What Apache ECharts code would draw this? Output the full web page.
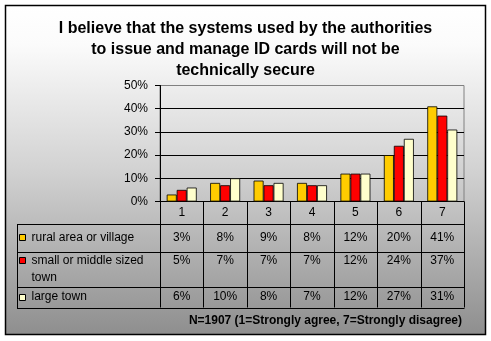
<!DOCTYPE html>
<html>
<head>
<meta charset="utf-8">
<script src="https://cdn.jsdelivr.net/npm/echarts@6/dist/echarts.min.js"></script>
<style>
html,body{margin:0;padding:0;background:#fff;}
#c{width:491px;height:341px;}
</style>
</head>
<body>
<div id="c"></div>
<script>
// ---- data ----
var categories = ['1', '2', '3', '4', '5', '6', '7'];
var seriesNames = ['rural area or village', 'small or middle sized town', 'large town'];
var rural = [3, 8, 9, 8, 12, 20, 41];
var smallTown = [5, 7, 7, 7, 12, 24, 37];
var largeTown = [6, 10, 8, 7, 12, 27, 31];
var yTicks = [0, 10, 20, 30, 40, 50];
var titleText = 'I believe that the systems used by the authorities\nto issue and manage ID cards will not be\ntechnically secure';
var footnote = 'N=1907 (1=Strongly agree, 7=Strongly disagree)';

var seriesValues = [rural, smallTown, largeTown];
var colors = ['#FFCC00', '#FF0000', '#FFFFCC'];
var FONT = 'Arial, "Liberation Sans", sans-serif';

var chart = echarts.init(document.getElementById('c'), null, {renderer: 'canvas'});

var baseOption = {
  animation: false,
  backgroundColor: '#ffffff',
  title: {
    text: titleText,
    left: 'center',
    top: 13,
    textStyle: {fontFamily: FONT, fontSize: 16, fontWeight: 'bold', color: '#000', lineHeight: 21}
  },
  grid: {left: 160, right: 27, top: 85.5, bottom: 139.5, show: true, borderColor: '#808080', borderWidth: 1, backgroundColor: 'transparent'},
  xAxis: {
    type: 'category',
    data: categories,
    axisLine: {show: true, lineStyle: {color: '#000', width: 1}},
    axisTick: {show: false},
    axisLabel: {fontFamily: FONT, fontSize: 12, color: '#000', margin: 5}
  },
  yAxis: {
    type: 'value',
    min: yTicks[0],
    max: yTicks[yTicks.length - 1],
    interval: yTicks[1] - yTicks[0],
    axisLine: {show: true, lineStyle: {color: '#000', width: 1}},
    axisTick: {show: true, inside: false, length: 5, lineStyle: {color: '#000'}},
    axisLabel: {fontFamily: FONT, fontSize: 12, color: '#000', margin: 12, formatter: '{value}%'},
    splitLine: {show: true, showMaxLine: false, lineStyle: {color: '#000', width: 1}}
  },
  series: seriesValues.map(function (vals, i) {
    return {
      type: 'bar',
      name: seriesNames[i],
      data: vals,
      barGap: '0%',
      barCategoryGap: '31%',
      itemStyle: {color: colors[i], borderColor: '#000', borderWidth: 0.8}
    };
  })
};

chart.setOption(baseOption);

function buildGraphics() {
  var x0 = chart.convertToPixel({xAxisIndex: 0}, 0);
  var x1 = chart.convertToPixel({xAxisIndex: 0}, 1);
  var band = x1 - x0;
  var left = x0 - band / 2;
  var right = left + band * categories.length;
  var yBase = chart.convertToPixel({yAxisIndex: 0}, 0);

  // table layout (offsets below plot bottom)
  var headerBottom = yBase + 22;
  var rowBounds = [headerBottom, yBase + 50, yBase + 85, yBase + 106];
  var tableLeft = 17;
  var lineH = 17.4;
  var els = [];

  // frame with gradient background
  els.push({
    type: 'rect', z: -10, silent: true,
    shape: {x: 5.5, y: 5.5, width: 480, height: 329},
    style: {
      fill: {type: 'linear', x: 0, y: 0, x2: 0, y2: 1, colorStops: [
        {offset: 0, color: '#ffffff'}, {offset: 0.12, color: '#fbfbfb'},
        {offset: 0.5, color: '#d2d2d2'}, {offset: 1, color: '#8e8e8e'}]},
      stroke: '#000', lineWidth: 1.5
    }
  });

  var stroke = {stroke: '#000', lineWidth: 1};
  // header row vertical lines
  for (var c = 0; c <= categories.length; c++) {
    var xx = Math.round(left + band * c) + 0.5;
    els.push({type: 'line', silent: true, shape: {x1: xx, y1: yBase, x2: xx, y2: rowBounds[3]}, style: stroke});
  }
  // horizontal lines
  els.push({type: 'line', silent: true, shape: {x1: left, y1: Math.round(headerBottom) + 0.5, x2: right, y2: Math.round(headerBottom) + 0.5}, style: stroke});
  for (var r = 0; r < rowBounds.length; r++) {
    var yy = Math.round(rowBounds[r]) + 0.5;
    els.push({type: 'line', silent: true, shape: {x1: tableLeft, y1: yy, x2: right + 0.5, y2: yy}, style: stroke});
  }
  var tl = Math.round(tableLeft) + 0.5;
  els.push({type: 'line', silent: true, shape: {x1: tl, y1: Math.round(rowBounds[0]) + 0.5, x2: tl, y2: Math.round(rowBounds[3]) + 0.5}, style: stroke});

  // rows
  var lineCounts = [1, 2, 1];
  for (var s = 0; s < seriesNames.length; s++) {
    var top = rowBounds[s], bot = rowBounds[s + 1];
    var mid = (top + bot) / 2;
    var firstY = mid - (lineCounts[s] - 1) * lineH / 2;
    // key square
    els.push({type: 'rect', silent: true, shape: {x: 19.5, y: Math.round(firstY - 3.5) + 0.5, width: 6, height: 6},
      style: {fill: colors[s], stroke: '#000', lineWidth: 1}});
    // label
    els.push({type: 'text', silent: true, x: 31.5, y: firstY - lineH / 2,
      style: {text: seriesNames[s], width: 124, overflow: 'break', lineHeight: lineH,
        font: '12px ' + FONT, fill: '#000', align: 'left', verticalAlign: 'top'}});
    // values
    for (var k = 0; k < categories.length; k++) {
      els.push({type: 'text', silent: true, x: left + band * (k + 0.5), y: firstY,
        style: {text: seriesValues[s][k] + '%', font: '12px ' + FONT, fill: '#000', align: 'center', verticalAlign: 'middle'}});
    }
  }

  // footnote
  els.push({type: 'text', silent: true, x: right - 2, y: rowBounds[3] + 13,
    style: {text: footnote, font: 'bold 12px ' + FONT, fill: '#000', align: 'right', verticalAlign: 'middle'}});
  return els;
}

chart.setOption({graphic: {elements: buildGraphics()}});
</script>
</body>
</html>
